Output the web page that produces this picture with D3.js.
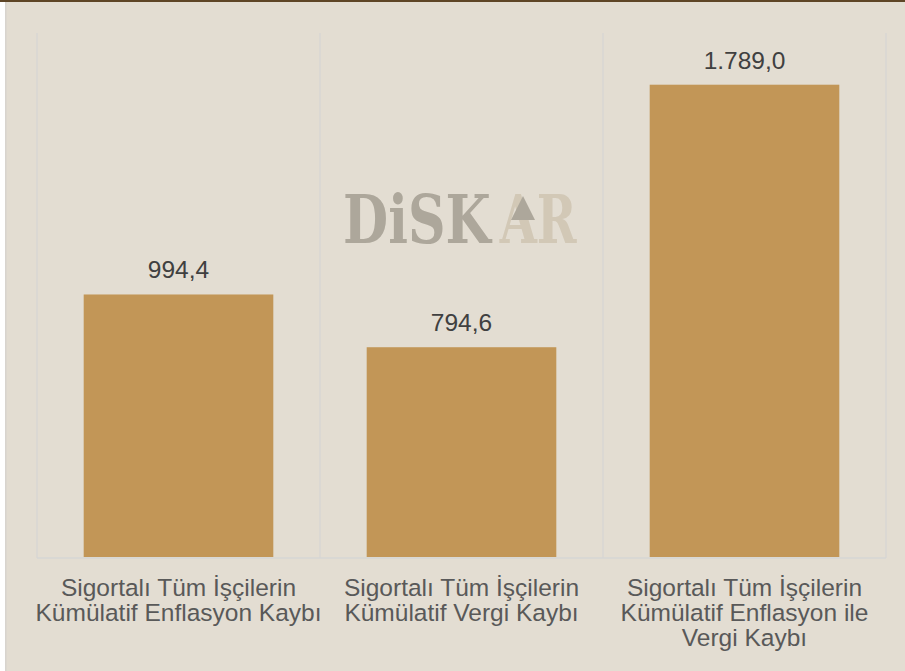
<!DOCTYPE html>
<html><head><meta charset="utf-8">
<script src="https://cdn.jsdelivr.net/npm/d3@7"></script>
<style>
html,body{margin:0;padding:0;background:#fff;}
svg{display:block;}
</style></head>
<body>
<script>
const categories = [
  ["Sigortalı Tüm İşçilerin", "Kümülatif Enflasyon Kaybı"],
  ["Sigortalı Tüm İşçilerin", "Kümülatif Vergi Kaybı"],
  ["Sigortalı Tüm İşçilerin", "Kümülatif Enflasyon ile", "Vergi Kaybı"]
];
const values = [994.4, 794.6, 1789.0];
const valueLabels = ["994,4", "794,6", "1.789,0"];
const yDomain = [0, 2000];

const W = 905, H = 671;
const svg = d3.select("body").append("svg").attr("width", W).attr("height", H);

svg.append("rect").attr("x", 6).attr("y", 0).attr("width", W - 6).attr("height", H).attr("fill", "#E3DDD2");
svg.append("rect").attr("x", 5).attr("y", 0).attr("width", 1.5).attr("height", H).attr("fill", "#D8D4CE");
svg.append("rect").attr("x", 0).attr("y", 0).attr("width", W).attr("height", 2).attr("fill", "#5E4526");

const plot = {left: 37, right: 886, top: 29, bottom: 557};
const x = d3.scaleBand().domain(d3.range(values.length)).range([plot.left, plot.right]).paddingInner(0.33).paddingOuter(0.165);
const y = d3.scaleLinear().domain(yDomain).range([plot.bottom, plot.top]);

// vertical separators
const step = (plot.right - plot.left) / values.length;
const gridX = d3.range(values.length + 1).map(i => plot.left + i * step);
svg.append("g").selectAll("line").data(gridX).join("line")
  .attr("x1", d => d).attr("x2", d => d).attr("y1", plot.top + 4).attr("y2", plot.bottom + 1)
  .attr("stroke", "#D6D6D4").attr("stroke-width", 1.2);
svg.append("line").attr("x1", plot.left).attr("x2", plot.right).attr("y1", plot.bottom + 1).attr("y2", plot.bottom + 1)
  .attr("stroke", "#D6D6D4").attr("stroke-width", 1.5);

// watermark (scaled horizontally to fit)
function wmText(str, x0, width, fill) {
  const g = svg.append("g");
  const t = g.append("text").attr("x", 0).attr("y", 0)
    .attr("font-family", "DejaVu Serif").attr("font-weight", "bold").attr("font-size", 68)
    .attr("fill", fill).text(str);
  const bb = t.node().getBBox();
  const s = width / bb.width;
  t.attr("x", -bb.x);
  g.attr("transform", `translate(${x0},243) scale(${s},1)`);
}
wmText("DiSK", 343, 150, "#ADA79B");
wmText("AR", 499, 78, "#D2C8B6");
svg.append("polygon").attr("points", "523,196 511,220 535,220").attr("fill", "#ADA79B");

svg.append("g").selectAll("rect").data(values).join("rect")
  .attr("x", (d, i) => x(i)).attr("width", x.bandwidth())
  .attr("y", d => y(d)).attr("height", d => y(0) - y(d))
  .attr("fill", "#C29657");

svg.append("g").selectAll("text").data(values).join("text")
  .attr("x", (d, i) => x(i) + x.bandwidth() / 2).attr("y", d => y(d) - 16)
  .attr("text-anchor", "middle").attr("font-family", "Liberation Sans, Arial, sans-serif")
  .attr("font-size", 24.5).attr("fill", "#404040")
  .text((d, i) => valueLabels[i]);

const cat = svg.append("g").selectAll("text").data(categories).join("text")
  .attr("x", (d, i) => x(i) + x.bandwidth() / 2).attr("y", 596)
  .attr("text-anchor", "middle").attr("font-family", "Liberation Sans, Arial, sans-serif")
  .attr("font-size", 24.5).attr("fill", "#595959");
cat.selectAll("tspan").data(d => d).join("tspan")
  .attr("x", function() { return d3.select(this.parentNode).attr("x"); })
  .attr("dy", (d, i) => i === 0 ? 0 : 25).text(d => d);
</script>
</body></html>
